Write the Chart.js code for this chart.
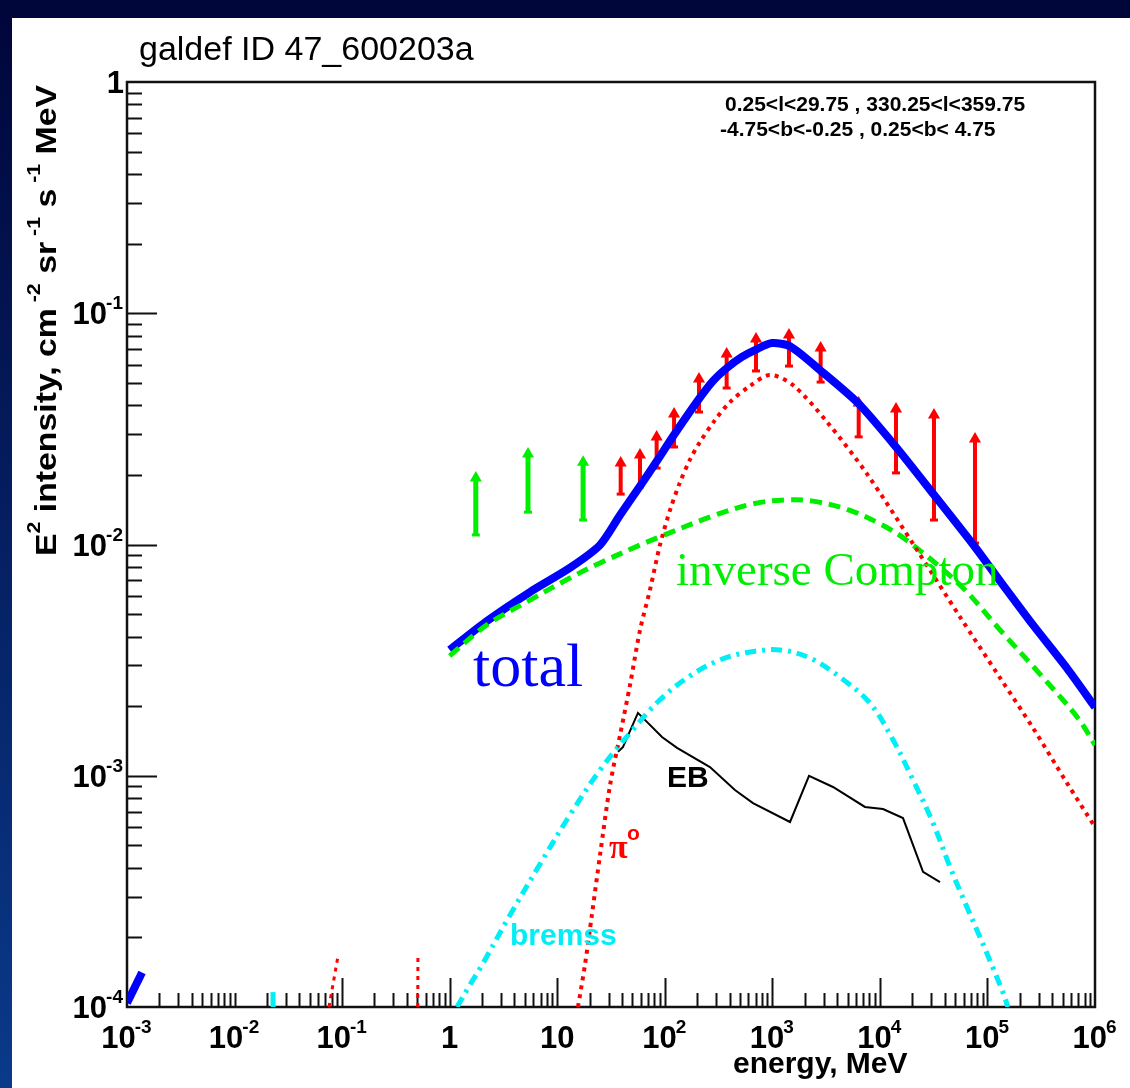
<!DOCTYPE html>
<html>
<head>
<meta charset="utf-8">
<title>galdef ID 47_600203a</title>
<script src="https://cdn.jsdelivr.net/npm/chart.js@4.4.1/dist/chart.umd.min.js"></script>
<style>
  html, body { margin: 0; padding: 0; overflow: hidden; background: #fff; }
  #wrap { width: 1130px; height: 1088px; }
</style>
</head>
<body>
<div id="wrap"><canvas id="chart" width="1130" height="1088"></canvas></div>
<script>
// Axis ranges (log scales)
const X_MIN = 1e-3, X_MAX = 1e6;
const Y_MIN = 1e-4, Y_MAX = 1;

// Tick labels
const xDecades = [1e-3, 1e-2, 1e-1, 1, 10, 1e2, 1e3, 1e4, 1e5, 1e6];
const xTickText = ['10^-3', '10^-2', '10^-1', '1', '10', '10^2', '10^3', '10^4', '10^5', '10^6'];
const yDecades = [1, 1e-1, 1e-2, 1e-3, 1e-4];
const yTickText = ['1', '10^-1', '10^-2', '10^-3', '10^-4'];

// total (model sum)
const totalE = [1.0, 2.22, 5.58, 13.1, 25, 38.4, 58.9, 84.7, 122, 208, 280, 378, 522, 719, 993, 1460, 2773, 6252, 14120, 31840, 76600, 1.31e5, 2.65e5, 5.48e5, 1e6];
const totalI = [3.50e-3, 4.67e-3, 6.23e-3, 7.92e-3, 9.95e-3, 1.34e-2, 1.79e-2, 2.30e-2, 2.98e-2, 4.26e-2, 5.09e-2, 5.80e-2, 6.47e-2, 7.00e-2, 7.43e-2, 7.20e-2, 5.68e-2, 4.09e-2, 2.64e-2, 1.64e-2, 9.75e-3, 6.95e-3, 4.49e-3, 2.92e-3, 1.98e-3];

// total, low-energy stub in the corner
const totalTailE = [1e-3, 1.38e-3];
const totalTailI = [1.04e-4, 1.41e-4];

// inverse Compton
const icE = [1.0, 2.22, 5.58, 13.1, 25, 58.9, 90.2, 281, 661, 1368, 2387, 4946, 1.0e4, 17860, 55600, 1.31e5, 3.08e5, 6.79e5, 1e6];
const icI = [3.30e-3, 4.49e-3, 5.75e-3, 7.16e-3, 8.32e-3, 9.95e-3, 1.08e-2, 1.33e-2, 1.50e-2, 1.56e-2, 1.54e-2, 1.42e-2, 1.23e-2, 1.04e-2, 6.68e-3, 4.27e-3, 2.75e-3, 1.80e-3, 1.36e-3];

// pi0 decay
const pi0E = [15.6, 18.1, 21.0, 25.0, 31.0, 38.4, 47.5, 58.9, 72.8, 90.2, 112, 138, 171, 212, 293, 404, 620, 950, 1556, 3221, 7586, 22130, 55600, 1.31e5, 2.65e5, 5.48e5, 1e6];
const pi0I = [1.0e-4, 1.52e-4, 2.50e-4, 4.54e-4, 9.12e-4, 1.50e-3, 2.47e-3, 4.27e-3, 6.36e-3, 9.95e-3, 1.41e-2, 1.85e-2, 2.32e-2, 2.77e-2, 3.45e-2, 4.13e-2, 4.85e-2, 5.41e-2, 4.89e-2, 3.39e-2, 2.02e-2, 9.47e-3, 4.86e-3, 2.65e-3, 1.61e-3, 9.31e-4, 6.0e-4];

// pi0 fragments near the bottom axis
const redFragAE = [0.0755, 0.092];
const redFragAI = [1.0e-4, 1.68e-4];
const redFragBE = [0.505, 0.507];
const redFragBI = [1.0e-4, 1.7e-4];

// bremsstrahlung
const bremE = [1.17, 1.55, 2.0, 3.64, 6.92, 13.1, 25, 47.5, 90.2, 171, 326, 620, 1178, 2239, 4254, 8091, 13240, 20320, 31180, 44870, 64570, 85100, 1.13e5, 1.39e5, 1.55e5];
const bremI = [1.0e-4, 1.25e-4, 1.52e-4, 2.50e-4, 4.15e-4, 6.76e-4, 1.06e-3, 1.53e-3, 2.13e-3, 2.70e-3, 3.17e-3, 3.43e-3, 3.50e-3, 3.23e-3, 2.67e-3, 2.06e-3, 1.43e-3, 9.59e-4, 6.25e-4, 4.03e-4, 2.70e-4, 2.01e-4, 1.47e-4, 1.16e-4, 1.0e-4];
const bremTickE = [0.0228, 0.0228];
const bremTickI = [1.0e-4, 1.16e-4];

// EB
const ebE = [36.7, 40.8, 56.3, 94.2, 130, 263, 449, 661, 1460, 2193, 3664, 7261, 10690, 16400, 25180, 36220];
const ebI = [1.27e-3, 1.33e-3, 1.87e-3, 1.47e-3, 1.32e-3, 1.09e-3, 8.68e-4, 7.62e-4, 6.31e-4, 9.98e-4, 8.94e-4, 7.33e-4, 7.18e-4, 6.56e-4, 3.84e-4, 3.47e-4];

// data points (error bars), green: low energy
const greenE = [1.75, 5.35, 17.4];
const greenLo = [1.10e-2, 1.38e-2, 1.276e-2];
const greenHi = [1.94e-2, 2.46e-2, 2.27e-2];

// data points (error bars), red
const redE = [38.9, 58.8, 84, 122, 208, 376, 705, 1428, 2813, 6353, 14120, 31840, 76600];
const redLo = [1.652e-2, 1.774e-2, 2.14e-2, 2.64e-2, 3.74e-2, 4.75e-2, 5.63e-2, 5.91e-2, 5.04e-2, 2.92e-2, 2.04e-2, 1.276e-2, 1.015e-2];
const redHi = [2.25e-2, 2.44e-2, 2.92e-2, 3.67e-2, 5.20e-2, 6.67e-2, 7.74e-2, 8.05e-2, 7.08e-2, 4.09e-2, 3.85e-2, 3.63e-2, 2.86e-2];

const BLUE = '#0000ff';
const GREEN = '#00ee00';
const RED = '#ff0000';
const CYAN = '#00eef6';

const SANS = '"Liberation Sans", Arial, sans-serif';
const SERIF = '"Liberation Serif", "Times New Roman", serif';

function pairs(xs, ys) {
  return xs.map((x, i) => ({ x: x, y: ys[i] }));
}

// vertical bars: low, high, gap
function bars(xs, lo, hi) {
  const out = [];
  xs.forEach((x, i) => {
    out.push({ x: x, y: lo[i] });
    out.push({ x: x, y: hi[i] });
    out.push({ x: x, y: null });
  });
  return out;
}

function curve(data, color, width, dash, tension) {
  return {
    data: data,
    borderColor: color,
    borderWidth: width,
    borderDash: dash || [],
    pointRadius: 0,
    fill: false,
    tension: tension === undefined ? 0.3 : tension
  };
}

function barSet(data, color, width) {
  return {
    data: data,
    borderColor: color,
    backgroundColor: color,
    borderWidth: width,
    spanGaps: false,
    tension: 0,
    pointStyle: (c) => c.dataIndex % 3 === 0 ? 'line' : 'triangle',
    pointRadius: (c) => c.dataIndex % 3 === 2 ? 0 : 4,
    pointBorderWidth: 3,
    pointBorderColor: color,
    pointBackgroundColor: color,
    fill: false
  };
}

// Split "10^-3" into base + exponent and draw it
function drawPower(ctx, text, x, y, align) {
  const parts = text.split('^');
  const base = parts[0], exp = parts[1] || '';
  ctx.font = 'bold 31px ' + SANS;
  const w1 = ctx.measureText(base).width;
  ctx.font = 'bold 19px ' + SANS;
  const w2 = exp ? ctx.measureText(exp).width : 0;
  const x0 = align === 'center' ? x - (w1 + w2) / 2 : x - w1 - w2;
  ctx.textAlign = 'left';
  ctx.textBaseline = 'alphabetic';
  ctx.font = 'bold 31px ' + SANS;
  ctx.fillText(base, x0, y);
  if (exp) {
    ctx.font = 'bold 19px ' + SANS;
    ctx.fillText(exp, x0 + w1 - 1, y - 15);
  }
}

// Draw a run of text pieces with superscripts, squeezed to a target width
function drawRich(ctx, pieces, target, baseFont, supFont, rise) {
  let total = 0;
  pieces.forEach(p => {
    ctx.font = p.sup ? supFont : baseFont;
    total += ctx.measureText(p.t).width;
  });
  ctx.save();
  ctx.scale(target / total, 1);
  let cx = 0;
  pieces.forEach(p => {
    ctx.font = p.sup ? supFont : baseFont;
    ctx.fillText(p.t, cx, p.sup ? -rise : 0);
    cx += ctx.measureText(p.t).width;
  });
  ctx.restore();
}

const backgroundPlugin = {
  id: 'background',
  beforeDraw(chart) {
    const ctx = chart.ctx;
    const g = ctx.createLinearGradient(0, 0, 0, chart.height);
    g.addColorStop(0, '#00053a');
    g.addColorStop(1, '#0a3a8a');
    ctx.save();
    ctx.fillStyle = g;
    ctx.fillRect(0, 0, chart.width, chart.height);
    ctx.fillStyle = '#ffffff';
    ctx.fillRect(12, 18, chart.width - 12, chart.height - 18);
    ctx.restore();
  }
};

// ROOT-style frame with inward ticks
const framePlugin = {
  id: 'frame',
  beforeDatasetsDraw(chart) {
    const ctx = chart.ctx;
    const a = chart.chartArea;
    const xs = chart.scales.x, ys = chart.scales.y;
    ctx.save();
    ctx.strokeStyle = '#111';
    ctx.lineWidth = 2;
    ctx.beginPath();
    // x ticks
    xDecades.forEach((d, i) => {
      const px = Math.round(xs.getPixelForValue(d)) + 0.5;
      if (i > 0 && i < xDecades.length - 1) {
        const len = d === 1e-2 ? 14 : 29;
        ctx.moveTo(px, a.bottom);
        ctx.lineTo(px, a.bottom - len);
      }
      if (i < xDecades.length - 1) {
        for (let m = 2; m <= 9; m++) {
          const mx = Math.round(xs.getPixelForValue(d * m)) + 0.5;
          ctx.moveTo(mx, a.bottom);
          ctx.lineTo(mx, a.bottom - 14);
        }
      }
    });
    // y ticks
    yDecades.forEach((d, i) => {
      const py = Math.round(ys.getPixelForValue(d)) + 0.5;
      if (i > 0 && i < yDecades.length - 1) {
        ctx.moveTo(a.left, py);
        ctx.lineTo(a.left + 30, py);
      }
      if (i > 0) {
        for (let m = 2; m <= 9; m++) {
          const my = Math.round(ys.getPixelForValue(d * m)) + 0.5;
          ctx.moveTo(a.left, my);
          ctx.lineTo(a.left + 15, my);
        }
      }
    });
    ctx.stroke();
    ctx.lineWidth = 2.5;
    ctx.strokeRect(a.left, a.top, a.right - a.left, a.bottom - a.top);

    // tick labels
    ctx.fillStyle = '#000';
    xDecades.forEach((d, i) => {
      drawPower(ctx, xTickText[i], xs.getPixelForValue(d), 1048, 'center');
    });
    yDecades.forEach((d, i) => {
      drawPower(ctx, yTickText[i], 124, ys.getPixelForValue(d) + 11, 'right');
    });
    ctx.restore();
  },
  afterDraw(chart) {
    const ctx = chart.ctx;
    ctx.save();
    ctx.fillStyle = '#000';
    ctx.textAlign = 'left';
    ctx.textBaseline = 'alphabetic';

    // title
    ctx.font = '34px ' + SANS;
    ctx.fillText('galdef ID 47_600203a', 139, 60, 352);

    // sky region
    ctx.font = 'bold 21px ' + SANS;
    ctx.fillText('0.25<l<29.75 , 330.25<l<359.75', 725, 111, 351);
    ctx.fillText('-4.75<b<-0.25 , 0.25<b< 4.75', 720, 136, 325);

    // x title
    ctx.font = 'bold 30px ' + SANS;
    ctx.fillText('energy, MeV', 733, 1073, 181);

    // y title, rotated
    ctx.save();
    ctx.translate(56, 556);
    ctx.rotate(-Math.PI / 2);
    drawRich(ctx, [
      { t: 'E' }, { t: '2', sup: true }, { t: ' intensity, cm' }, { t: ' -2', sup: true },
      { t: ' sr' }, { t: ' -1', sup: true }, { t: ' s' }, { t: ' -1', sup: true }, { t: ' MeV' }
    ], 471, 'bold 30px ' + SANS, 'bold 19px ' + SANS, 16);
    ctx.restore();

    // curve labels
    ctx.fillStyle = BLUE;
    ctx.font = '62px ' + SERIF;
    ctx.fillText('total', 473, 686, 113);

    ctx.fillStyle = GREEN;
    ctx.font = '47px ' + SERIF;
    ctx.fillText('inverse Compton', 676, 585, 327);

    ctx.fillStyle = '#000';
    ctx.font = 'bold 30px ' + SANS;
    ctx.fillText('EB', 667, 787, 42);

    ctx.fillStyle = RED;
    ctx.font = 'bold 34px ' + SERIF;
    ctx.fillText('\u03c0', 609, 858);
    ctx.font = 'bold 21px ' + SANS;
    ctx.fillText('o', 627, 840);

    ctx.fillStyle = CYAN;
    ctx.font = 'bold 30px ' + SANS;
    ctx.fillText('bremss', 510, 945, 115);
    ctx.restore();
  }
};

const datasets = [
  curve(pairs(bremE, bremI), CYAN, 5, [11, 6, 3, 6], 0.35),
  curve(pairs(bremTickE, bremTickI), CYAN, 5, [], 0),
  curve(pairs(ebE, ebI), '#000000', 2, [], 0),
  curve(pairs(pi0E, pi0I), RED, 4, [4, 5], 0.3),
  curve(pairs(redFragAE, redFragAI), RED, 3, [4, 5], 0),
  curve(pairs(redFragBE, redFragBI), RED, 3, [4, 5], 0),
  curve(pairs(icE, icI), GREEN, 5, [12, 7], 0.35),
  curve(pairs(totalE, totalI), BLUE, 8, [], 0.25),
  curve(pairs(totalTailE, totalTailI), BLUE, 8, [], 0),
  barSet(bars(greenE, greenLo, greenHi), GREEN, 5),
  barSet(bars(redE, redLo, redHi), RED, 4)
];

new Chart(document.getElementById('chart'), {
  type: 'line',
  data: { datasets: datasets },
  options: {
    responsive: false,
    animation: false,
    events: [],
    devicePixelRatio: 1,
    layout: { padding: { left: 127, right: 35, top: 82, bottom: 81 } },
    scales: {
      x: { type: 'logarithmic', min: X_MIN, max: X_MAX, display: false },
      y: { type: 'logarithmic', min: Y_MIN, max: Y_MAX, display: false }
    },
    plugins: {
      legend: { display: false },
      tooltip: { enabled: false },
      title: { display: false }
    }
  },
  plugins: [backgroundPlugin, framePlugin]
});
</script>
</body>
</html>
